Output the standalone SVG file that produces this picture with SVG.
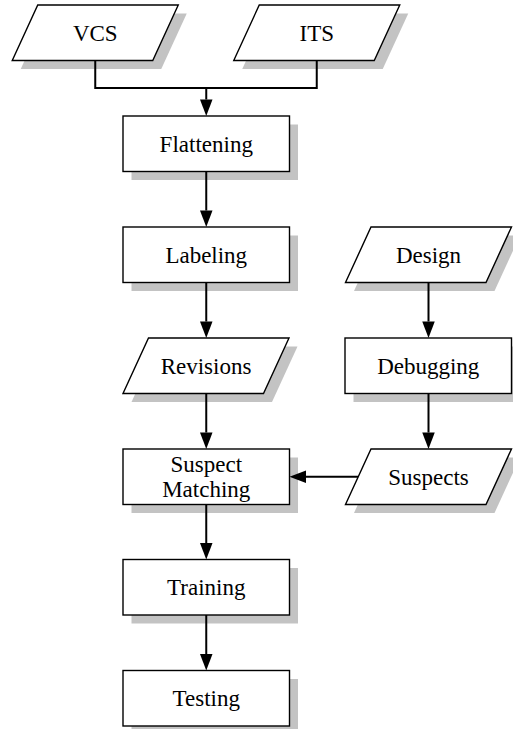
<svg xmlns="http://www.w3.org/2000/svg" width="513" height="729" viewBox="0 0 513 729">
<style>
.shadow{fill:#c3c3c3;stroke:none}
.box{fill:#fff;stroke:#000;stroke-width:1.4}
.lbl{font-family:"Liberation Serif","Times New Roman",serif;font-size:23px;fill:#000;text-anchor:middle}
.edge{fill:none;stroke:#000;stroke-width:2}
</style>
<defs>
<marker id="arr" markerUnits="userSpaceOnUse" markerWidth="17" markerHeight="13" refX="0" refY="6.25" orient="auto" overflow="visible">
<path d="M0,0 L16.5,6.25 L0,12.5 z" fill="#000"/>
</marker>
</defs>
<rect width="513" height="729" fill="#fff"/>
<g id="VCS">
<polygon class="shadow" points="46.25,13.5 186.75,13.5 161.25,69 20.75,69"/>
<polygon class="box" points="37.75,5 178.25,5 152.75,60.5 12.25,60.5"/>
<text class="lbl" x="95.25" y="40.5">VCS</text>
</g>
<g id="ITS">
<polygon class="shadow" points="267.75,13.5 408.25,13.5 382.75,69 242.25,69"/>
<polygon class="box" points="259.25,5 399.75,5 374.25,60.5 233.75,60.5"/>
<text class="lbl" x="316.75" y="40.5">ITS</text>
</g>
<g id="Flattening">
<rect class="shadow" x="131.5" y="124.5" width="166.5" height="55.5"/>
<rect class="box" x="123" y="116" width="166.5" height="55.5"/>
<text class="lbl" x="206.25" y="151.5">Flattening</text>
</g>
<g id="Labeling">
<rect class="shadow" x="131.5" y="235.5" width="166.5" height="55.5"/>
<rect class="box" x="123" y="227" width="166.5" height="55.5"/>
<text class="lbl" x="206.25" y="262.5">Labeling</text>
</g>
<g id="Revisions">
<polygon class="shadow" points="157,346.5 297.5,346.5 272,402 131.5,402"/>
<polygon class="box" points="148.5,338 289,338 263.5,393.5 123,393.5"/>
<text class="lbl" x="206" y="373.5">Revisions</text>
</g>
<g id="Design">
<polygon class="shadow" points="379.5,235.5 520,235.5 494.5,291 354,291"/>
<polygon class="box" points="371,227 511.5,227 486,282.5 345.5,282.5"/>
<text class="lbl" x="428.5" y="262.5">Design</text>
</g>
<g id="Debugging">
<rect class="shadow" x="353.5" y="346.5" width="166.5" height="55.5"/>
<rect class="box" x="345" y="338" width="166.5" height="55.5"/>
<text class="lbl" x="428.25" y="373.5">Debugging</text>
</g>
<g id="SuspectMatching">
<rect class="shadow" x="131.5" y="457.5" width="166.5" height="55.5"/>
<rect class="box" x="123" y="449" width="166.5" height="55.5"/>
<text class="lbl" x="206.25" y="471.5">Suspect</text>
<text class="lbl" x="206.25" y="496.5">Matching</text>
</g>
<g id="Suspects">
<polygon class="shadow" points="379.5,457.5 520,457.5 494.5,513 354,513"/>
<polygon class="box" points="371,449 511.5,449 486,504.5 345.5,504.5"/>
<text class="lbl" x="428.5" y="484.5">Suspects</text>
</g>
<g id="Training">
<rect class="shadow" x="131.5" y="568" width="166.5" height="55.5"/>
<rect class="box" x="123" y="559.5" width="166.5" height="55.5"/>
<text class="lbl" x="206.25" y="595">Training</text>
</g>
<g id="Testing">
<rect class="shadow" x="131.5" y="679" width="166.5" height="55.5"/>
<rect class="box" x="123" y="670.5" width="166.5" height="55.5"/>
<text class="lbl" x="206.25" y="706">Testing</text>
</g>
<g id="connectors">
<path class="edge" d="M95.25,60.5 V88 H316.75 V60.5"/>
<path class="edge" d="M206.25,88 V99.5" marker-end="url(#arr)"/>
<path class="edge" d="M206.25,171.5 V210.5" marker-end="url(#arr)"/>
<path class="edge" d="M206.25,282.5 V321.5" marker-end="url(#arr)"/>
<path class="edge" d="M206.25,393.5 V432.5" marker-end="url(#arr)"/>
<path class="edge" d="M206.25,504.5 V543" marker-end="url(#arr)"/>
<path class="edge" d="M206.25,615 V654" marker-end="url(#arr)"/>
<path class="edge" d="M428.5,282.5 V321.5" marker-end="url(#arr)"/>
<path class="edge" d="M428.5,393.5 V432.5" marker-end="url(#arr)"/>
<path class="edge" d="M358,476.75 H306" marker-end="url(#arr)"/>
</g>
</svg>
